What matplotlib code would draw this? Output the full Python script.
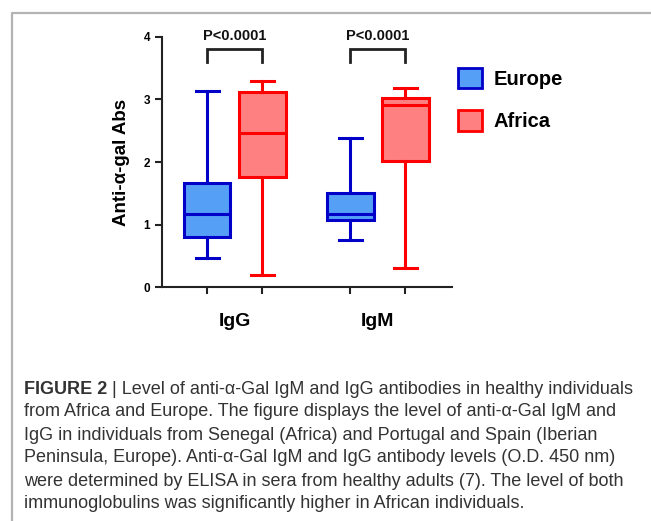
import matplotlib.pyplot as plt
from matplotlib.patches import Patch

# Box plot summaries (O.D. 450 nm)
groups = ['IgG', 'IgM']
regions = ['Europe', 'Africa']
positions = [1, 2, 3.6, 4.6]
whislo = [0.46, 0.19, 0.75, 0.30]
q1 = [0.80, 1.76, 1.08, 2.02]
med = [1.17, 2.47, 1.17, 2.91]
q3 = [1.66, 3.12, 1.51, 3.02]
whishi = [3.14, 3.30, 2.38, 3.18]
pvalues = ['P<0.0001', 'P<0.0001']

edge_colors = ['#0000c8', '#ff0000']
fill_colors = ['#559ff7', '#ff8080']

caption_lines = [
    'from Africa and Europe. The figure displays the level of anti-\u03b1-Gal IgM and',
    'IgG in individuals from Senegal (Africa) and Portugal and Spain (Iberian',
    'Peninsula, Europe). Anti-\u03b1-Gal IgM and IgG antibody levels (O.D. 450 nm)',
    'were determined by ELISA in sera from healthy adults (7). The level of both',
    'immunoglobulins was significantly higher in African individuals.',
]

plt.rcParams['font.family'] = ['Liberation Sans', 'DejaVu Sans']

fig = plt.figure(figsize=(6.51, 5.21), dpi=100)
ax = fig.add_axes([0.2488, 0.4491, 0.4455, 0.4799])

stats = []
for i in range(len(positions)):
    stats.append({'whislo': whislo[i], 'q1': q1[i], 'med': med[i],
                  'q3': q3[i], 'whishi': whishi[i], 'fliers': []})

for i in range(len(positions)):
    c = i % 2
    ax.bxp([stats[i]], positions=[positions[i]], widths=0.85, patch_artist=True,
           showfliers=False, capwidths=0.42,
           boxprops=dict(facecolor=fill_colors[c], edgecolor=edge_colors[c], linewidth=2.2),
           medianprops=dict(color=edge_colors[c], linewidth=2.2),
           whiskerprops=dict(color=edge_colors[c], linewidth=2.2),
           capprops=dict(color=edge_colors[c], linewidth=2.2))

# significance brackets
for g in range(len(groups)):
    x0, x1 = positions[2 * g], positions[2 * g + 1]
    ax.plot([x0, x0, x1, x1], [3.6, 3.8, 3.8, 3.6], color='#222222', lw=2, clip_on=False,
            solid_joinstyle='miter')
    ax.text((x0 + x1) / 2, 3.9, pvalues[g], ha='center', va='bottom', fontsize=10.5,
            fontweight='bold', color='#111111', clip_on=False)

ax.set_xlim(0.18, 5.45)
ax.set_ylim(0, 4)
ax.set_yticks([0, 1, 2, 3, 4])
ax.set_xticks(positions)
ax.set_xticklabels([])
ax.tick_params(axis='both', width=1.5, length=5, labelsize=8.5, color='#222222')
for lab in ax.get_yticklabels():
    lab.set_fontweight('bold')
for s in ['top', 'right']:
    ax.spines[s].set_visible(False)
for s in ['left', 'bottom']:
    ax.spines[s].set_linewidth(1.5)
    ax.spines[s].set_color('#222222')

for g in range(len(groups)):
    xc = (positions[2 * g] + positions[2 * g + 1]) / 2
    ax.text(xc, -0.55, groups[g], ha='center', va='center', fontsize=14,
            fontweight='bold', transform=ax.transData)

ax.set_ylabel('Anti-\u03b1-gal Abs', fontsize=13.5, fontweight='bold', labelpad=10)

handles = [Patch(facecolor=fill_colors[k], edgecolor=edge_colors[k], linewidth=2, label=regions[k])
           for k in range(2)]
fig.legend(handles=handles, loc='upper left', bbox_to_anchor=(0.675, 0.905), frameon=False,
           prop={'weight': 'bold', 'size': 14.5}, handlelength=1.2, handleheight=1.2,
           labelspacing=1.05, handletextpad=0.6)

# figure frame
fig.add_artist(plt.Line2D([12 / 651, 12 / 651, 1.0], [0, 1 - 13 / 521, 1 - 13 / 521],
                          color='#b3b3b3', lw=1.6, transform=fig.transFigure))

# caption
cap_size = 13
t1 = fig.text(24 / 651, 1 - 389 / 521, 'FIGURE 2', fontsize=cap_size, fontweight='bold',
              color='#333333', va='center', ha='left')
ax.annotate(' | Level of anti-\u03b1-Gal IgM and IgG antibodies in healthy individuals',
            xy=(1, 0.5), xycoords=t1, va='center', ha='left', fontsize=cap_size,
            color='#333333', annotation_clip=False)
for k, line in enumerate(caption_lines):
    fig.text(24 / 651, 1 - (389 + 23 * (k + 1)) / 521, line, fontsize=cap_size,
             color='#333333', va='center', ha='left')

fig.savefig('out.png', dpi=100)
